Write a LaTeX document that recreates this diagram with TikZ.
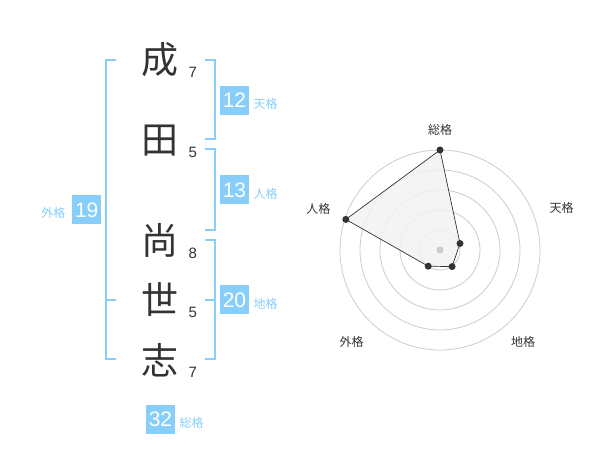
\documentclass[tikz,border=0pt]{standalone}
\usepackage{fontspec}
\setmainfont{Liberation Sans}
\newfontfamily\cjk{Noto Sans CJK JP}
\definecolor{kblue}{HTML}{87CEFA}
\definecolor{ktext}{HTML}{333333}
\definecolor{kring}{HTML}{CCCCCC}
\definecolor{kfill}{HTML}{F2F2F2}
\begin{document}
\begin{tikzpicture}[x=1pt,y=-1pt,
  kanji/.style={font=\cjk\fontsize{37}{37}\selectfont, text=ktext, inner sep=0pt},
  strokes/.style={font=\fontsize{15}{15}\selectfont, text=ktext, inner sep=0pt},
  valbox/.style={fill=kblue, minimum width=29pt, minimum height=29pt, inner sep=0pt, text=white, font=\fontsize{21}{21}\selectfont},
  kakulabel/.style={font=\cjk\fontsize{12}{12}\selectfont, text=kblue, inner sep=0pt},
  bracket/.style={draw=kblue, line width=2pt},
  ring/.style={draw=kring, line width=0.8pt},
  radarlabel/.style={font=\cjk\fontsize{12}{12}\selectfont, text=ktext, inner sep=0pt},
  rdot/.style={circle, fill=ktext, minimum size=7pt, inner sep=0pt}]
\useasboundingbox (0,0) rectangle (600,470);
% characters
\node[kanji] (c1) at (160,60) {成};
\node[kanji] (c2) at (160,141) {田};
\node[kanji] (c3) at (160,240) {尚};
\node[kanji] (c4) at (160,300) {世};
\node[kanji] (c5) at (160,360) {志};
% strokes
\node[strokes] (s1) at (192.7,72.7) {7};
\node[strokes] (s2) at (192.7,152.7) {5};
\node[strokes] (s3) at (192.7,253.3) {8};
\node[strokes] (s4) at (192.7,312.7) {5};
\node[strokes] (s5) at (192.7,372.7) {7};
% brackets
\draw[bracket] (205,60) -- (214.5,60) -- (214.5,139.5) -- (205,139.5);
\draw[bracket] (205,149.5) -- (214.5,149.5) -- (214.5,230) -- (205,230);
\draw[bracket] (205,240) -- (214.5,240) -- (214.5,359.5) -- (205,359.5);
\draw[bracket] (205,300) -- (214.5,300);
\draw[bracket] (116,60) -- (105.5,60) -- (105.5,359.5) -- (116,359.5);
\draw[bracket] (105.5,300) -- (116,300);
% value boxes
\node[valbox] (ten) at (234.5,100.5) {12};
\node[kakulabel] (tenl) at (265.5,104) {天格};
\node[valbox] (jin) at (234.5,190) {13};
\node[kakulabel] (jinl) at (265.5,193.5) {人格};
\node[valbox] (chi) at (234.5,300) {20};
\node[kakulabel] (chil) at (265.5,303.5) {地格};
\node[valbox] (gai) at (86.7,210) {19};
\node[kakulabel] (gail) at (53.3,213.3) {外格};
\node[valbox] (sou) at (160.5,419) {32};
\node[kakulabel] (soul) at (191.7,422.7) {総格};
% radar chart
\coordinate (rc) at (440,250);
\foreach \r in {20,40,60,80,100} \draw[ring] (rc) circle[radius=\r];
\coordinate (q1) at (440,150);
\coordinate (q2) at (460,243.5);
\coordinate (q3) at (452.1,266.6);
\coordinate (q4) at (428.2,266.2);
\coordinate (q5) at (345.8,219.4);
\filldraw[fill=kfill, fill opacity=0.85, draw=ktext, line width=0.7pt] (q1) -- (q2) -- (q3) -- (q4) -- (q5) -- cycle;
\fill[kring] (rc) circle[radius=3.5];
\node[rdot] (d1) at (q1) {};
\node[rdot] (d2) at (q2) {};
\node[rdot] (d3) at (q3) {};
\node[rdot] (d4) at (q4) {};
\node[rdot] (d5) at (q5) {};
\node[radarlabel] (r1) at (440,130) {総格};
\node[radarlabel] (r2) at (561.7,208.3) {天格};
\node[radarlabel] (r3) at (523,341.7) {地格};
\node[radarlabel] (r4) at (351.7,341.7) {外格};
\node[radarlabel] (r5) at (318.3,209) {人格};
\end{tikzpicture}
\end{document}
